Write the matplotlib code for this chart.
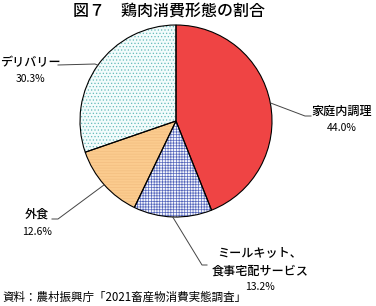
import numpy as np
import matplotlib
matplotlib.use("Agg")
import matplotlib.pyplot as plt

plt.rcParams['font.family'] = ['Noto Sans CJK JP', 'DejaVu Sans']
plt.rcParams['hatch.linewidth'] = 0.5

TITLE = "図７　鶏肉消費形態の割合"
SOURCE = "資料：農村振興庁「2021畜産物消費実態調査」"
CATEGORIES = ["家庭内調理", "ミールキット、\n食事宅配サービス", "外食", "デリバリー"]
SHARES = [44.0, 13.2, 12.6, 30.3]

FACES = ["#EF4444", "#F4F6FC", "#FBCB8E", "#F2FBFB"]
HATCHES = [None, "++++++", "------", "....."]
HATCH_COLORS = ["#EF4444", "#5566BB", "#F3BE80", "#66BBBB"]

CENTER = (176, 121)
R = 96

fig = plt.figure(figsize=(3.76, 3.06), dpi=100)
ax = fig.add_axes([0, 0, 1, 1])

# hatched fill layer, then black outline layer on top
wedges, _ = ax.pie(SHARES, colors=FACES, startangle=270, counterclock=True,
                   center=CENTER, radius=R, normalize=True)
for w, h, hc in zip(wedges, HATCHES, HATCH_COLORS):
    w.set_edgecolor(hc)
    w.set_linewidth(0)
    if h:
        w.set_hatch(h)
ax.pie(SHARES, startangle=270, counterclock=True, center=CENTER, radius=R,
       normalize=True, wedgeprops=dict(fill=False, edgecolor="black", linewidth=0.8))

ax.set_xlim(0, 376)
ax.set_ylim(306, 0)
ax.set_aspect("equal")
ax.axis("off")

# label layout: (text x, name y, pct y, elbow points of leader line)
LAYOUT = [
    (342, 111, 128, [(305, 116), (311, 116)]),
    (260, None, 287, [(202, 265), (207, 265)]),
    (37, 214, 232, [(58, 219), (52, 219)]),
    (30, 63, 79, [(95, 64), (58, 65)]),
]

for w, name, pct, (tx, ny, py, elbow) in zip(wedges, CATEGORIES, SHARES, LAYOUT):
    mid = np.deg2rad((w.theta1 + w.theta2) / 2)
    ex = CENTER[0] + R * np.cos(mid)
    ey = CENTER[1] + R * np.sin(mid)
    xs = [ex] + [p[0] for p in elbow]
    ys = [ey] + [p[1] for p in elbow]
    ax.plot(xs, ys, color="#444444", lw=0.7)
    if ny is None:
        lines = name.split("\n")
        ax.text(tx, 254, lines[0], ha="center", va="center", fontsize=8.7, fontweight="medium")
        ax.text(tx, 271, lines[1], ha="center", va="center", fontsize=8.7, fontweight="medium")
    else:
        ax.text(tx, ny, name, ha="center", va="center", fontsize=8.7, fontweight="medium")
    ax.text(tx, py, f"{pct:.1f}%", ha="center", va="center", fontsize=7.5)

ax.text(169, 12, TITLE, ha="center", va="center", fontsize=11.5, fontweight="medium")
ax.text(2, 297, SOURCE, ha="left", va="center", fontsize=8.3)

fig.savefig("out.png", dpi=100)
